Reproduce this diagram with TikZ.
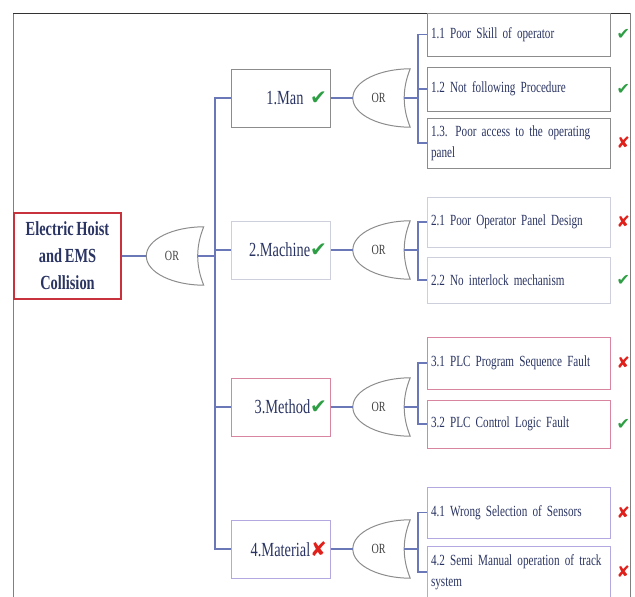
\documentclass[tikz,border=0pt]{standalone}
\usepackage{xcolor}
\usepackage{fontspec}
\setmainfont{Liberation Serif}[FakeStretch=0.72]
\newfontfamily\symfont{DejaVu Sans}
\usepackage{tikz}
\usetikzlibrary{positioning}

\definecolor{inkblue}{HTML}{2A3462}
\definecolor{linkblue}{HTML}{6A78B8}
\definecolor{rootred}{HTML}{C8323C}
\definecolor{mangray}{HTML}{8C8C8C}
\definecolor{machgray}{HTML}{CDCFDC}
\definecolor{methpink}{HTML}{D8859F}
\definecolor{matlilac}{HTML}{B4A8E0}
\definecolor{okgreen}{HTML}{2E9E44}
\definecolor{badred}{HTML}{E0201A}

\newcommand{\markyes}{{\symfont\color{okgreen}✔}}
\newcommand{\markno}{{\symfont\color{badred}✘}}
\newcommand{\tightsp}{\spaceskip=2.8pt\relax\xspaceskip=2.8pt\relax}

\begin{document}
\begin{tikzpicture}[
    x=1pt, y=-1pt,
    every node/.style={text=inkblue, inner sep=0pt},
    link/.style={draw=linkblue, line width=1.6pt},
    gateline/.style={draw=black!45, line width=1pt},
    topbox/.style={draw=rootred, line width=1.3pt, minimum width=107pt, minimum height=86pt,
        align=center, font=\fontsize{20}{27}\selectfont\bfseries\tightsp},
    causebox/.style={line width=1pt, minimum width=99pt, minimum height=58pt,
        text width=93pt, align=right, font=\fontsize{20}{22}\selectfont\tightsp},
    leaf/.style={line width=1pt, minimum width=183pt, text width=175pt, align=left,
        font=\fontsize{15.5}{21}\selectfont\tightsp},
    verdict/.style={font=\fontsize{16}{16}\selectfont},
    orgate/.style={minimum width=51pt, minimum height=58pt, text=black!75,
        font=\fontsize{14}{14}\selectfont,
        append after command={\pgfextra{\let\gn\tikzlastnode
            \draw[gateline] ([xshift=6pt]\gn.north east)
                .. controls +(-30pt,0pt) and +(0pt,17pt) .. (\gn.west)
                .. controls +(0pt,-17pt) and +(-30pt,0pt) .. ([xshift=6pt]\gn.south east)
                .. controls +(-8pt,20pt) and +(-8pt,-20pt) .. cycle;}}}
]
\useasboundingbox (0,0) rectangle (635,597);

% outer frame
\draw[black!50, line width=0.8pt] (13,600) -- (13,13);
\draw[black!50, line width=0.8pt] (630,13) -- (630,600);
\draw[black!80, line width=1pt] (13,13) -- (630,13);

% top event
\node[topbox] (top) at (67.5,256) {Electric Hoist\\and EMS\\Collision};
\node[orgate] (g0) at (172,256) {OR};
\coordinate (tr) at (215,256);

% causes
\node[causebox, draw=mangray] (m1) at (280.5,98) {1.Man \markyes};
\node[causebox, draw=machgray] (m2) at (280.5,250) {2.Machine\markyes};
\node[causebox, draw=methpink] (m3) at (280.5,407) {3.Method\markyes};
\node[causebox, draw=matlilac] (m4) at (280.5,549) {4.Material\markno};

\node[orgate] (g1) at (378.5,98) {OR};
\node[orgate] (g2) at (378.5,250) {OR};
\node[orgate] (g3) at (378.5,407) {OR};
\node[orgate] (g4) at (378.5,549) {OR};
\coordinate (br) at (418,0);

% basic events
\node[leaf, draw=mangray, minimum height=43pt] (l11) at (518.5,34.5) {1.1 Poor Skill of operator};
\node[leaf, draw=mangray, minimum height=44pt] (l12) at (518.5,89) {1.2 Not following Procedure};
\node[leaf, draw=mangray, minimum height=50pt] (l13) at (518.5,143) {1.3. Poor access to the operating\\panel};
\node[leaf, draw=machgray, minimum height=50pt] (l21) at (518.5,222) {2.1 Poor Operator Panel Design};
\node[leaf, draw=machgray, minimum height=46pt] (l22) at (518.5,280) {2.2 No interlock mechanism};
\node[leaf, draw=methpink, minimum height=52pt] (l31) at (518.5,363) {3.1 PLC Program Sequence Fault};
\node[leaf, draw=methpink, minimum height=48pt] (l32) at (518.5,424) {3.2 PLC Control Logic Fault};
\node[leaf, draw=matlilac, minimum height=51pt] (l41) at (518.5,512.5) {4.1 Wrong Selection of Sensors};
\node[leaf, draw=matlilac, minimum height=52pt] (l42) at (518.5,572) {4.2 Semi Manual operation of track\\system};

\node[verdict, right=6pt of l11] (v11) {\markyes};
\node[verdict, right=6pt of l12] (v12) {\markyes};
\node[verdict, right=6pt of l13] (v13) {\markno};
\node[verdict, right=6pt of l21] (v21) {\markno};
\node[verdict, right=6pt of l22] (v22) {\markyes};
\node[verdict, right=6pt of l31] (v31) {\markno};
\node[verdict, right=6pt of l32] (v32) {\markyes};
\node[verdict, right=6pt of l41] (v41) {\markno};
\node[verdict, right=6pt of l42] (v42) {\markno};

% connectors
\draw[link] (top.east) -- (g0.west);
\draw[link] (g0.east) -- (tr);
\draw[link] (m1.west) -- (m1.west -| tr) -- (m4.west -| tr) -- (m4.west);
\foreach \n in {m2,m3}
    \draw[link] (\n.west) -- (\n.west -| tr);

\foreach \i in {1,2,3,4}
    \draw[link] (m\i.east) -- (g\i.west);

\draw[link] (l11.west) -- (l11.west -| br) -- (l13.west -| br) -- (l13.west);
\draw[link] (l12.west) -- (l12.west -| br);
\draw[link] (g1.east) -- (g1.east -| br);

\draw[link] (l21.west) -- (l21.west -| br) -- (l22.west -| br) -- (l22.west);
\draw[link] (g2.east) -- (g2.east -| br);

\draw[link] (l31.west) -- (l31.west -| br) -- (l32.west -| br) -- (l32.west);
\draw[link] (g3.east) -- (g3.east -| br);

\draw[link] (l41.west) -- (l41.west -| br) -- (l42.west -| br) -- (l42.west);
\draw[link] (g4.east) -- (g4.east -| br);
\end{tikzpicture}
\end{document}
